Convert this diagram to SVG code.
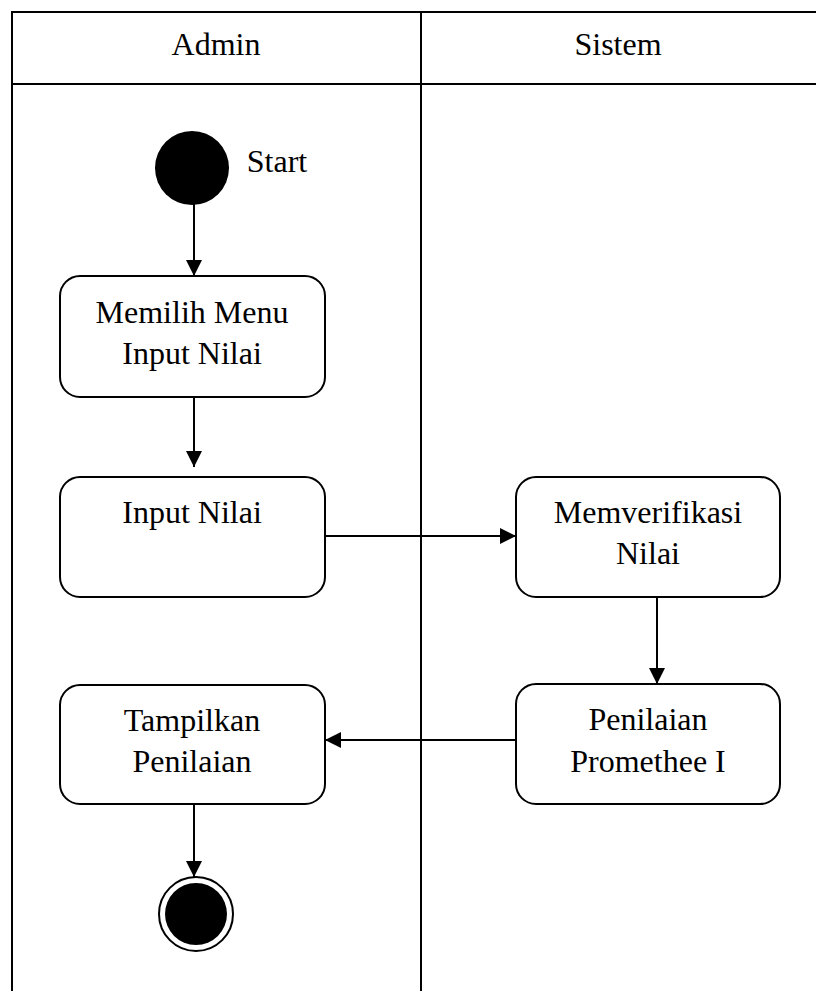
<svg xmlns="http://www.w3.org/2000/svg" width="816" height="991" viewBox="0 0 816 991">
<defs>
<style>
.lane{stroke:#000;stroke-width:2;fill:none}
.box{fill:#fff;stroke:#000;stroke-width:2}
.t{font-family:"Liberation Serif","Times New Roman",serif;font-size:32px;fill:#000;text-anchor:middle}
.c{stroke:#000;stroke-width:2;fill:none}
</style>
<marker id="ah" markerWidth="17" markerHeight="17" refX="16" refY="8" orient="auto" markerUnits="userSpaceOnUse">
<path d="M0,0 L16,8 L0,16 Z" fill="#000"/>
</marker>
</defs>
<rect width="816" height="991" fill="#fff"/>
<g id="lanes">
<path class="lane" d="M816,12 H12 V991 M12,84 H816 M421,12 V991"/>
<text class="t" x="216" y="55">Admin</text>
<text class="t" x="618" y="55">Sistem</text>
</g>
<g id="connectors">
<path class="c" d="M194,204 V276" marker-end="url(#ah)"/>
<path class="c" d="M194,397 V467" marker-end="url(#ah)"/>
<path class="c" d="M325,536 H516" marker-end="url(#ah)"/>
<path class="c" d="M657,597 V684" marker-end="url(#ah)"/>
<path class="c" d="M516,740 H325" marker-end="url(#ah)"/>
<path class="c" d="M194,804 V877" marker-end="url(#ah)"/>
</g>
<g id="start">
<circle cx="192" cy="168" r="37" fill="#000"/>
<text class="t" x="277" y="172">Start</text>
</g>
<g id="memilih">
<rect class="box" x="60" y="276" width="265" height="121" rx="20"/>
<text class="t" x="192" y="323">Memilih Menu</text>
<text class="t" x="192" y="364">Input Nilai</text>
</g>
<g id="input">
<rect class="box" x="60" y="477" width="265" height="120" rx="20"/>
<text class="t" x="192" y="523">Input Nilai</text>
</g>
<g id="verifikasi">
<rect class="box" x="516" y="477" width="264" height="120" rx="20"/>
<text class="t" x="648" y="523">Memverifikasi</text>
<text class="t" x="648" y="564">Nilai</text>
</g>
<g id="promethee">
<rect class="box" x="516" y="684" width="264" height="120" rx="20"/>
<text class="t" x="648" y="730">Penilaian</text>
<text class="t" x="648" y="772">Promethee I</text>
</g>
<g id="tampilkan">
<rect class="box" x="60" y="685" width="265" height="119" rx="20"/>
<text class="t" x="192" y="731">Tampilkan</text>
<text class="t" x="192" y="772">Penilaian</text>
</g>
<g id="end">
<circle cx="196" cy="914" r="37" fill="#fff" stroke="#000" stroke-width="2"/>
<circle cx="196" cy="914" r="31" fill="#000"/>
</g>
</svg>
